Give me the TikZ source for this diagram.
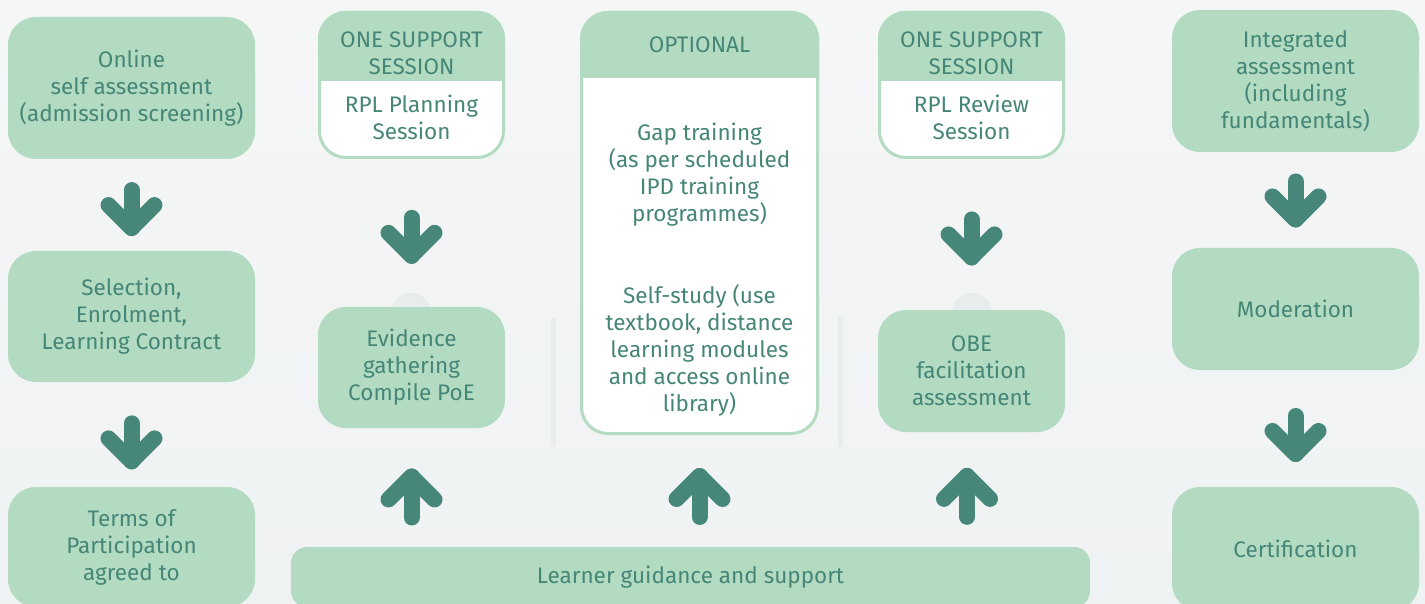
\documentclass[tikz,border=0pt]{standalone}
\usepackage{fontspec}
\setmainfont{Fira Sans}
\usetikzlibrary{calc}
\definecolor{bgtop}{HTML}{F5F6F6}
\definecolor{bgbot}{HTML}{EFF2F3}
\definecolor{boxg}{HTML}{B2DBC1}
\definecolor{txtg}{HTML}{468677}
\definecolor{arrg}{HTML}{47877A}
\definecolor{faint}{HTML}{E7ECED}
\tikzset{
  arr/.style={draw=arrg, line width=16pt, line cap=round, line join=round},
  downarr/.pic={\draw[arr] (0,-19.5) -- (0,18.5); \draw[arr] (-23,-4.5) -- (0,18.5) -- (23,-4.5);},
  uparr/.pic={\draw[arr] (0,20.5) -- (0,-20.5); \draw[arr] (-23,2.5) -- (0,-20.5) -- (23,2.5);},
  gbox/.style={fill=boxg, rounded corners=28pt},
  wbox/.style={draw=boxg, line width=3pt, fill=white, rounded corners=26.5pt},
  lbl/.style={}
}
\begin{document}
\begin{tikzpicture}[x=1pt,y=-1pt,
  every node/.style={font=\fontsize{22.5}{27}\selectfont, text=txtg, align=center, inner sep=0pt}]
\useasboundingbox (0,0) rectangle (1425,604);
\clip (0,0) rectangle (1425,604);
\shade[top color=bgtop, bottom color=bgbot] (0,0) rectangle (1425,604);

% faint background marks
\fill[faint] (411,313) circle (20pt);
\fill[faint] (972,313) circle (20pt);
\fill[faint] (551,318) rectangle (556,447);
\fill[faint] (838,317) rectangle (843,447);

% column 1
\node[gbox, minimum width=247pt, minimum height=142pt] (on1) at (131.5,88) {Online\\self assessment\\(admission screening)};
\node[gbox, minimum width=247pt, minimum height=131pt] (sel) at (131.5,316.5) {Selection,\\Enrolment,\\Learning Contract};
\node[gbox, minimum width=247pt, minimum height=120pt] (terms) at (131.5,547) {Terms of\\Participation\\agreed to};

% column 2
\node[wbox, minimum width=184pt, minimum height=145pt] (sup1) at (411.5,85) {};
\begin{scope}
\clip (300,0) rectangle (520,81);
\fill[boxg, rounded corners=28pt] (sup1.north west) rectangle (sup1.south east);
\end{scope}
\node (h1) at (411.5,53) {ONE SUPPORT\\SESSION};
\node (b1) at (411.5,117.5) {RPL Planning\\Session};
\node[gbox, minimum width=187pt, minimum height=121pt] (evid) at (411.5,367.5) {Evidence\\gathering\\Compile PoE};

% column 3
\node[wbox, minimum width=236pt, minimum height=421pt] (opt) at (699.5,223) {};
\begin{scope}
\clip (560,0) rectangle (840,78);
\fill[boxg, rounded corners=28pt] (opt.north west) rectangle (opt.south east);
\end{scope}
\node (oh) at (699.5,45) {OPTIONAL};
\node (gap) at (699.5,174.5) {Gap training\\(as per scheduled\\IPD training\\programmes)};
\node (self) at (699.5,350.5) {Self-study (use\\textbook, distance\\learning modules\\and access online\\library)};

% column 4
\node[wbox, minimum width=184pt, minimum height=145pt] (sup2) at (971.5,85) {};
\begin{scope}
\clip (860,0) rectangle (1080,81);
\fill[boxg, rounded corners=28pt] (sup2.north west) rectangle (sup2.south east);
\end{scope}
\node (h2) at (971.5,53) {ONE SUPPORT\\SESSION};
\node (b2) at (971.5,117.5) {RPL Review\\Session};
\node[gbox, minimum width=187pt, minimum height=122pt] (obe) at (971.5,371) {OBE\\facilitation\\assessment};

% column 5
\node[gbox, minimum width=247pt, minimum height=142pt] (integ) at (1295.5,81) {Integrated\\assessment\\(including\\fundamentals)};
\node[gbox, minimum width=247pt, minimum height=122pt] (moder) at (1295.5,309) {Moderation};
\node[gbox, minimum width=247pt, minimum height=124pt] (cert) at (1295.5,549) {Certification};

% bottom bar
\node[fill=boxg, rounded corners=16pt, minimum width=799pt, minimum height=60pt] (bar) at (690.5,577) {Learner guidance and support};

% arrows
\pic at ($(on1.south)!0.55!(sel.north)$) {downarr};
\pic at ($(sel.south)!0.58!(terms.north)$) {downarr};
\pic at ($(sup1.south)!0.53!(evid.north)$) {downarr};
\pic at ($(sup2.south)!0.53!(obe.north)$) {downarr};
\pic at ($(integ.south)!0.51!(moder.north)$) {downarr};
\pic at ($(moder.south)!0.56!(cert.north)$) {downarr};
\pic at ($(evid.south)!0.58!(evid.south |- bar.north)$) {uparr};
\pic at ($(opt.south)!0.55!(opt.south |- bar.north)$) {uparr};
\pic at ([xshift=-4.5pt]$(obe.south)!0.56!(obe.south |- bar.north)$) {uparr};
\end{tikzpicture}
\end{document}
